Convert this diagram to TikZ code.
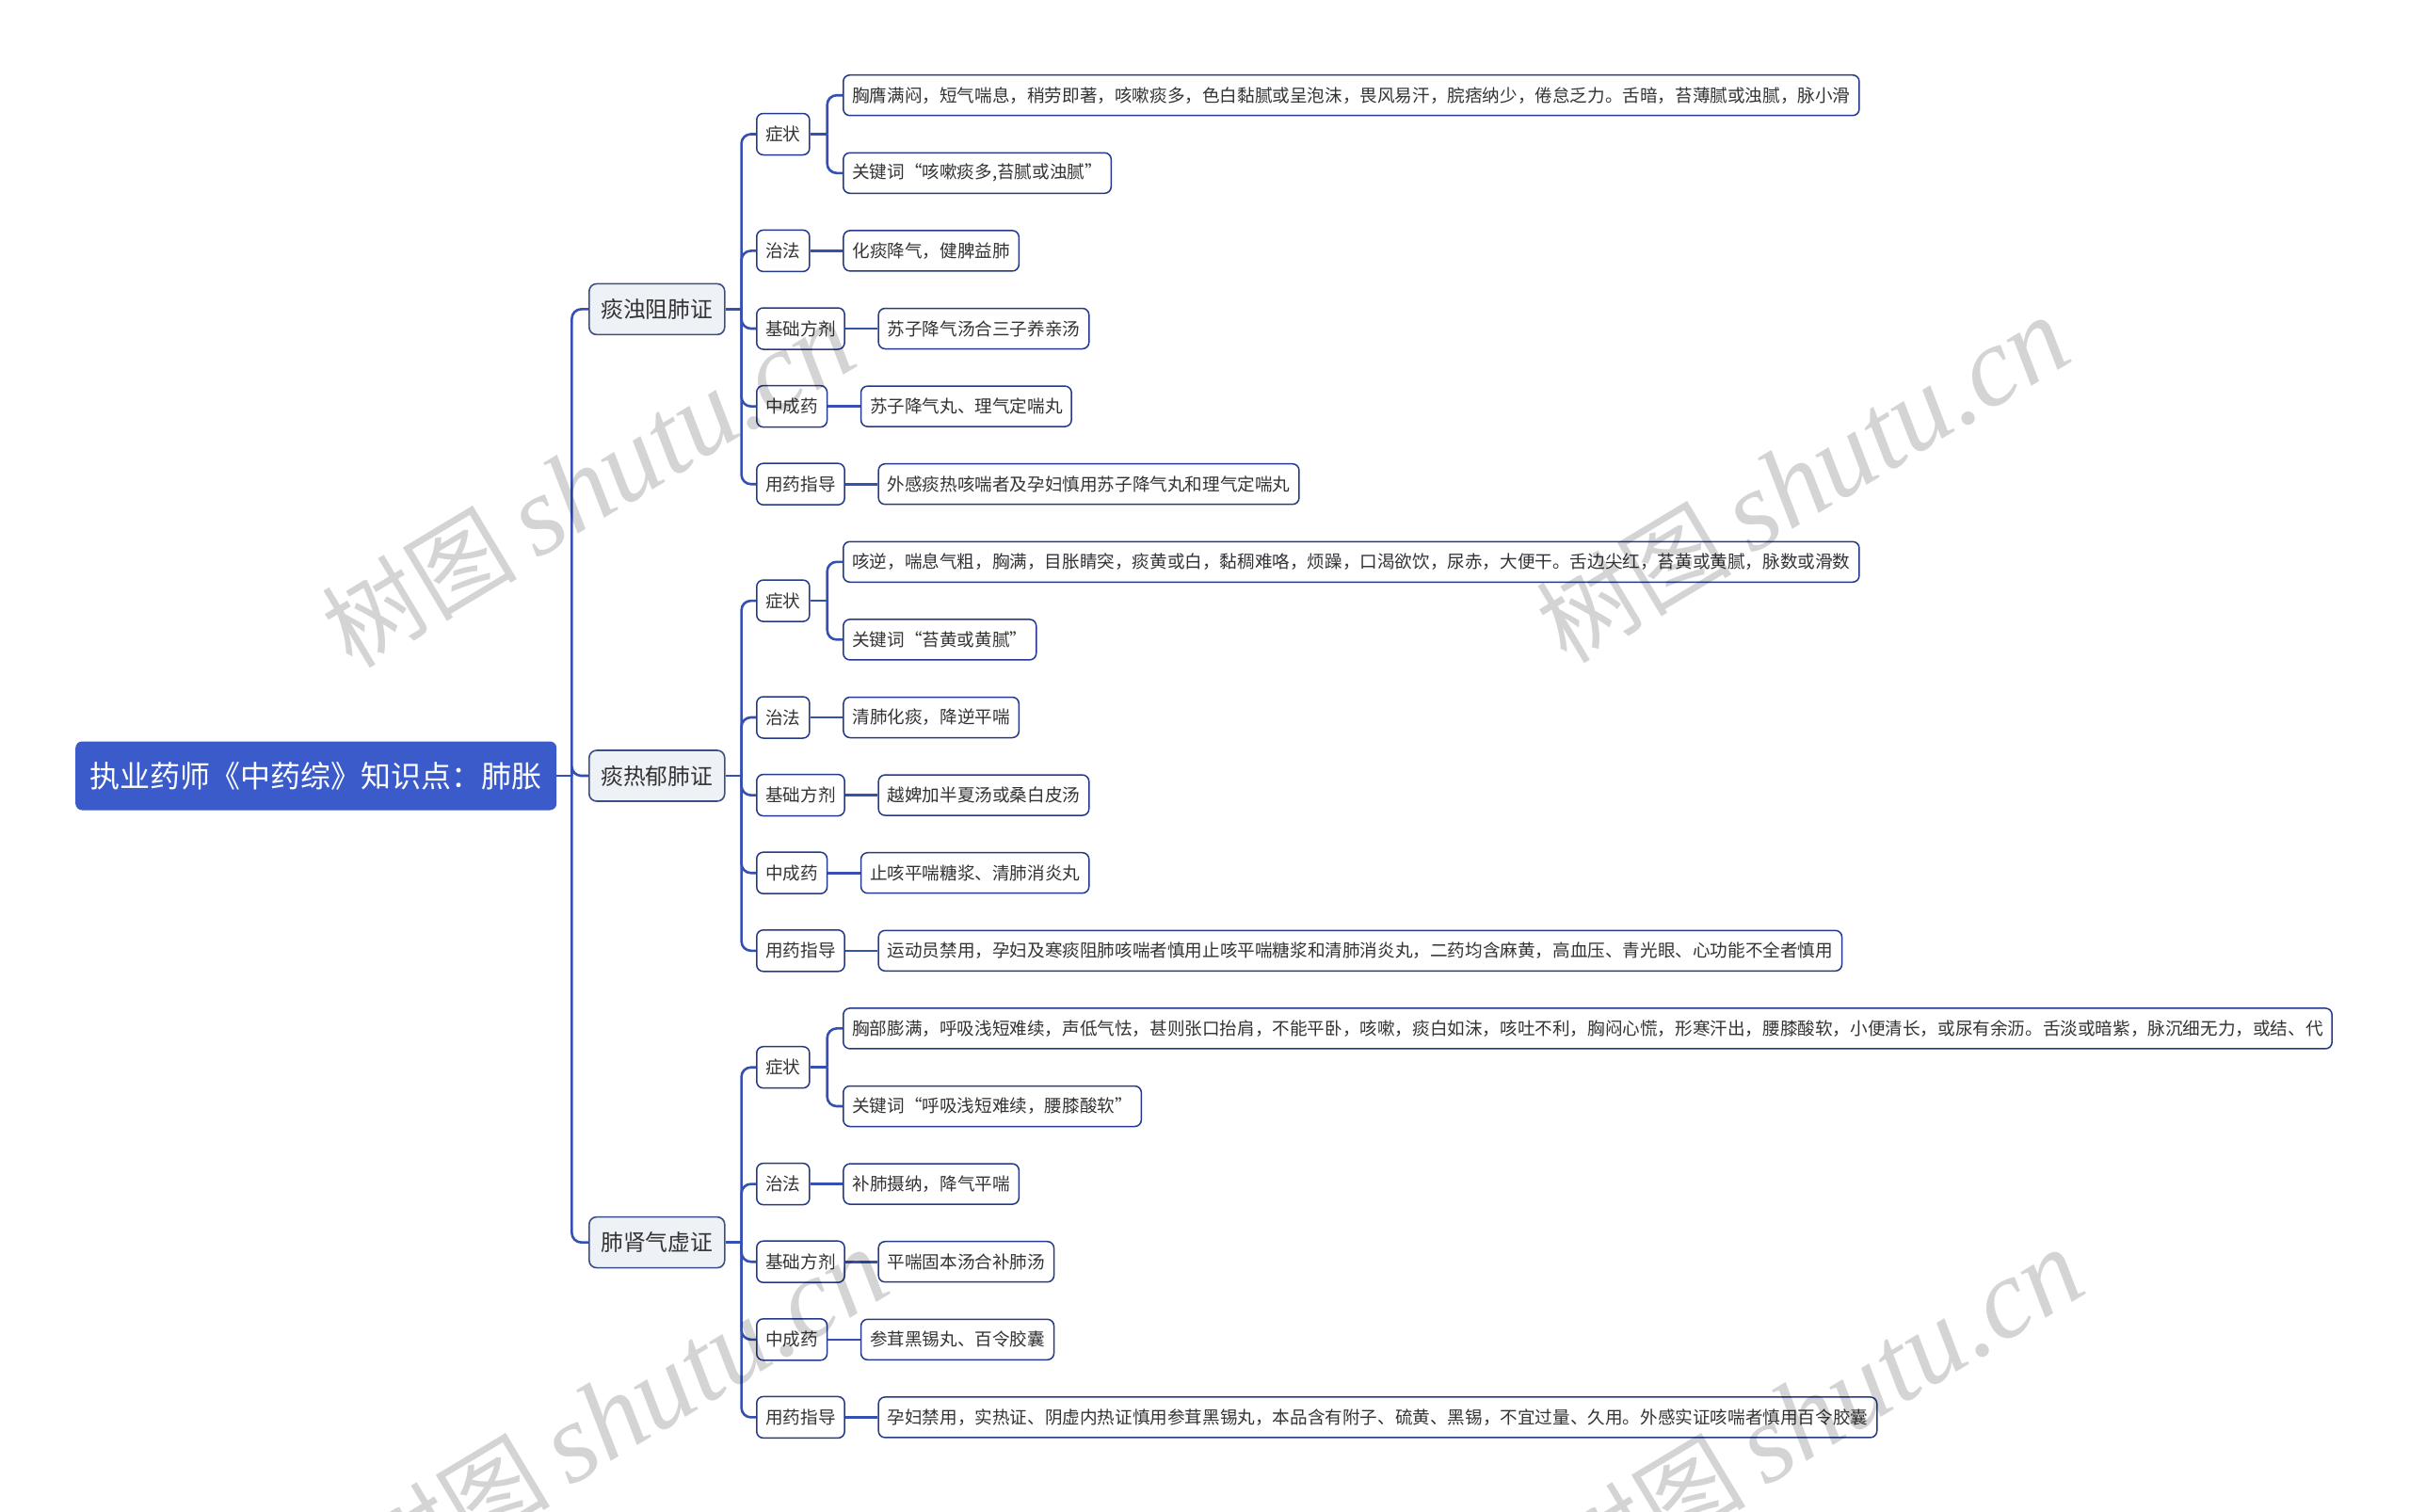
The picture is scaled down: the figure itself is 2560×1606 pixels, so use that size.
\documentclass[tikz,border=0pt]{standalone}
\usepackage{fontspec}
\setmainfont{Noto Sans CJK SC}
\newfontfamily\cjkwm{Noto Sans CJK SC}
\newfontfamily\latwm{Liberation Serif}
\usetikzlibrary{positioning}
\definecolor{rootblue}{HTML}{3A5BC9}
\definecolor{linkblue}{HTML}{3450B2}
\definecolor{lonefill}{HTML}{EEF1F6}
\definecolor{loneborder}{HTML}{3B4E86}
\definecolor{leafborder}{HTML}{24398A}
\definecolor{txt}{HTML}{333333}
\tikzset{
  rootbox/.style={anchor=west, rounded corners=7pt, fill=rootblue, text=white,
    font=\fontsize{32}{36}\selectfont, inner xsep=15.5pt, inner ysep=4pt, minimum height=73pt},
  lonebox/.style={anchor=west, rounded corners=8pt, fill=lonefill, draw=loneborder, line width=1.6pt,
    text=txt, font=\fontsize{23.8}{27}\selectfont, inner xsep=12.5pt, inner ysep=3pt, minimum height=54pt},
  ltwobox/.style={anchor=west, rounded corners=7pt, fill=white, draw=leafborder, line width=1.5pt,
    text=txt, font=\fontsize{18.6}{22}\selectfont, inner xsep=9.5pt, inner ysep=3pt, minimum height=44pt},
  leafbox/.style={anchor=west, rounded corners=7pt, fill=white, draw=leafborder, line width=1.5pt,
    text=txt, font=\fontsize{18.6}{22}\selectfont, inner xsep=9.5pt, inner ysep=3pt, minimum height=43pt},
  link/.style={draw=linkblue, line width=2.6pt, rounded corners=10pt},
  wm/.style={rotate=31, text=black, text opacity=0.17, inner sep=0pt},
}
\newcommand{\wmtext}{{\cjkwm\fontsize{104}{104}\selectfont 树图}\hspace{20pt}{\latwm\itshape\fontsize{120}{120}\selectfont shutu.cn}}
\begin{document}
\begin{tikzpicture}[x=1pt,y=-1pt]
\fill[white] (0,0) rectangle (2560,1606);
\useasboundingbox (0,0) rectangle (2560,1606);

\node[rootbox] (root) at (80,824) {执业药师《中药综》知识点：肺胀};
\node[lonebox] (a) at (625,328.4) {痰浊阻肺证};
\node[lonebox] (b) at (625,824) {痰热郁肺证};
\node[lonebox] (c) at (625,1319.6) {肺肾气虚证};

% section a
\node[ltwobox] (a1) at (803,142.5) {症状};
\node[ltwobox] (a2) at (803,266.4) {治法};
\node[ltwobox] (a3) at (803,349.0) {基础方剂};
\node[ltwobox] (a4) at (803,431.6) {中成药};
\node[ltwobox] (a5) at (803,514.2) {用药指导};
\node[leafbox] (a1x) at (895,101.2) {胸膺满闷，短气喘息，稍劳即著，咳嗽痰多，色白黏腻或呈泡沫，畏风易汗，脘痞纳少，倦怠乏力。舌暗，苔薄腻或浊腻，脉小滑};
\node[leafbox] (a1y) at (895,183.8) {关键词“咳嗽痰多,苔腻或浊腻”};
\node[leafbox, right=34.5pt of a2] (a2x) {化痰降气，健脾益肺};
\node[leafbox, right=34.5pt of a3] (a3x) {苏子降气汤合三子养亲汤};
\node[leafbox, right=34.5pt of a4] (a4x) {苏子降气丸、理气定喘丸};
\node[leafbox, right=34.5pt of a5] (a5x) {外感痰热咳喘者及孕妇慎用苏子降气丸和理气定喘丸};

% section b
\node[ltwobox] (b1) at (803,638.1) {症状};
\node[ltwobox] (b2) at (803,762.0) {治法};
\node[ltwobox] (b3) at (803,844.6) {基础方剂};
\node[ltwobox] (b4) at (803,927.2) {中成药};
\node[ltwobox] (b5) at (803,1009.8) {用药指导};
\node[leafbox] (b1x) at (895,596.8) {咳逆，喘息气粗，胸满，目胀睛突，痰黄或白，黏稠难咯，烦躁，口渴欲饮，尿赤，大便干。舌边尖红，苔黄或黄腻，脉数或滑数};
\node[leafbox] (b1y) at (895,679.4) {关键词“苔黄或黄腻”};
\node[leafbox, right=34.5pt of b2] (b2x) {清肺化痰，降逆平喘};
\node[leafbox, right=34.5pt of b3] (b3x) {越婢加半夏汤或桑白皮汤};
\node[leafbox, right=34.5pt of b4] (b4x) {止咳平喘糖浆、清肺消炎丸};
\node[leafbox, right=34.5pt of b5] (b5x) {运动员禁用，孕妇及寒痰阻肺咳喘者慎用止咳平喘糖浆和清肺消炎丸，二药均含麻黄，高血压、青光眼、心功能不全者慎用};

% section c
\node[ltwobox] (c1) at (803,1133.7) {症状};
\node[ltwobox] (c2) at (803,1257.6) {治法};
\node[ltwobox] (c3) at (803,1340.2) {基础方剂};
\node[ltwobox] (c4) at (803,1422.8) {中成药};
\node[ltwobox] (c5) at (803,1505.4) {用药指导};
\node[leafbox] (c1x) at (895,1092.4) {胸部膨满，呼吸浅短难续，声低气怯，甚则张口抬肩，不能平卧，咳嗽，痰白如沫，咳吐不利，胸闷心慌，形寒汗出，腰膝酸软，小便清长，或尿有余沥。舌淡或暗紫，脉沉细无力，或结、代};
\node[leafbox] (c1y) at (895,1175.0) {关键词“呼吸浅短难续，腰膝酸软”};
\node[leafbox, right=34.5pt of c2] (c2x) {补肺摄纳，降气平喘};
\node[leafbox, right=34.5pt of c3] (c3x) {平喘固本汤合补肺汤};
\node[leafbox, right=34.5pt of c4] (c4x) {参茸黑锡丸、百令胶囊};
\node[leafbox, right=34.5pt of c5] (c5x) {孕妇禁用，实热证、阴虚内热证慎用参茸黑锡丸，本品含有附子、硫黄、黑锡，不宜过量、久用。外感实证咳喘者慎用百令胶囊};

% connectors
\coordinate (rT) at ([xshift=16pt]root.east);
\draw[link] (root.east) -- (rT);
\foreach \p in {a,b,c}{
  \draw[link] (rT) |- (\p.west);
  \coordinate (\p T) at ([xshift=17pt]\p.east);
  \draw[link] (\p.east) -- (\p T);
  \foreach \i in {1,...,5}{\draw[link] (\p T) |- (\p\i.west);}
  \coordinate (\p S) at ([xshift=18pt]\p1.east);
  \draw[link] (\p1.east) -- (\p S);
  \draw[link] (\p S) |- (\p1x.west);
  \draw[link] (\p S) |- (\p1y.west);
  \foreach \i in {2,...,5}{\draw[link] (\p\i.east) -- (\p\i x.west);}
}

% watermarks
\node[wm] (w1) at (625,515) {\wmtext};
\node[wm] (w2) at (1915,510) {\wmtext};
\node[wm] (w3) at (660,1500) {\wmtext};
\node[wm] (w4) at (1930,1500) {\wmtext};
\end{tikzpicture}
\end{document}
